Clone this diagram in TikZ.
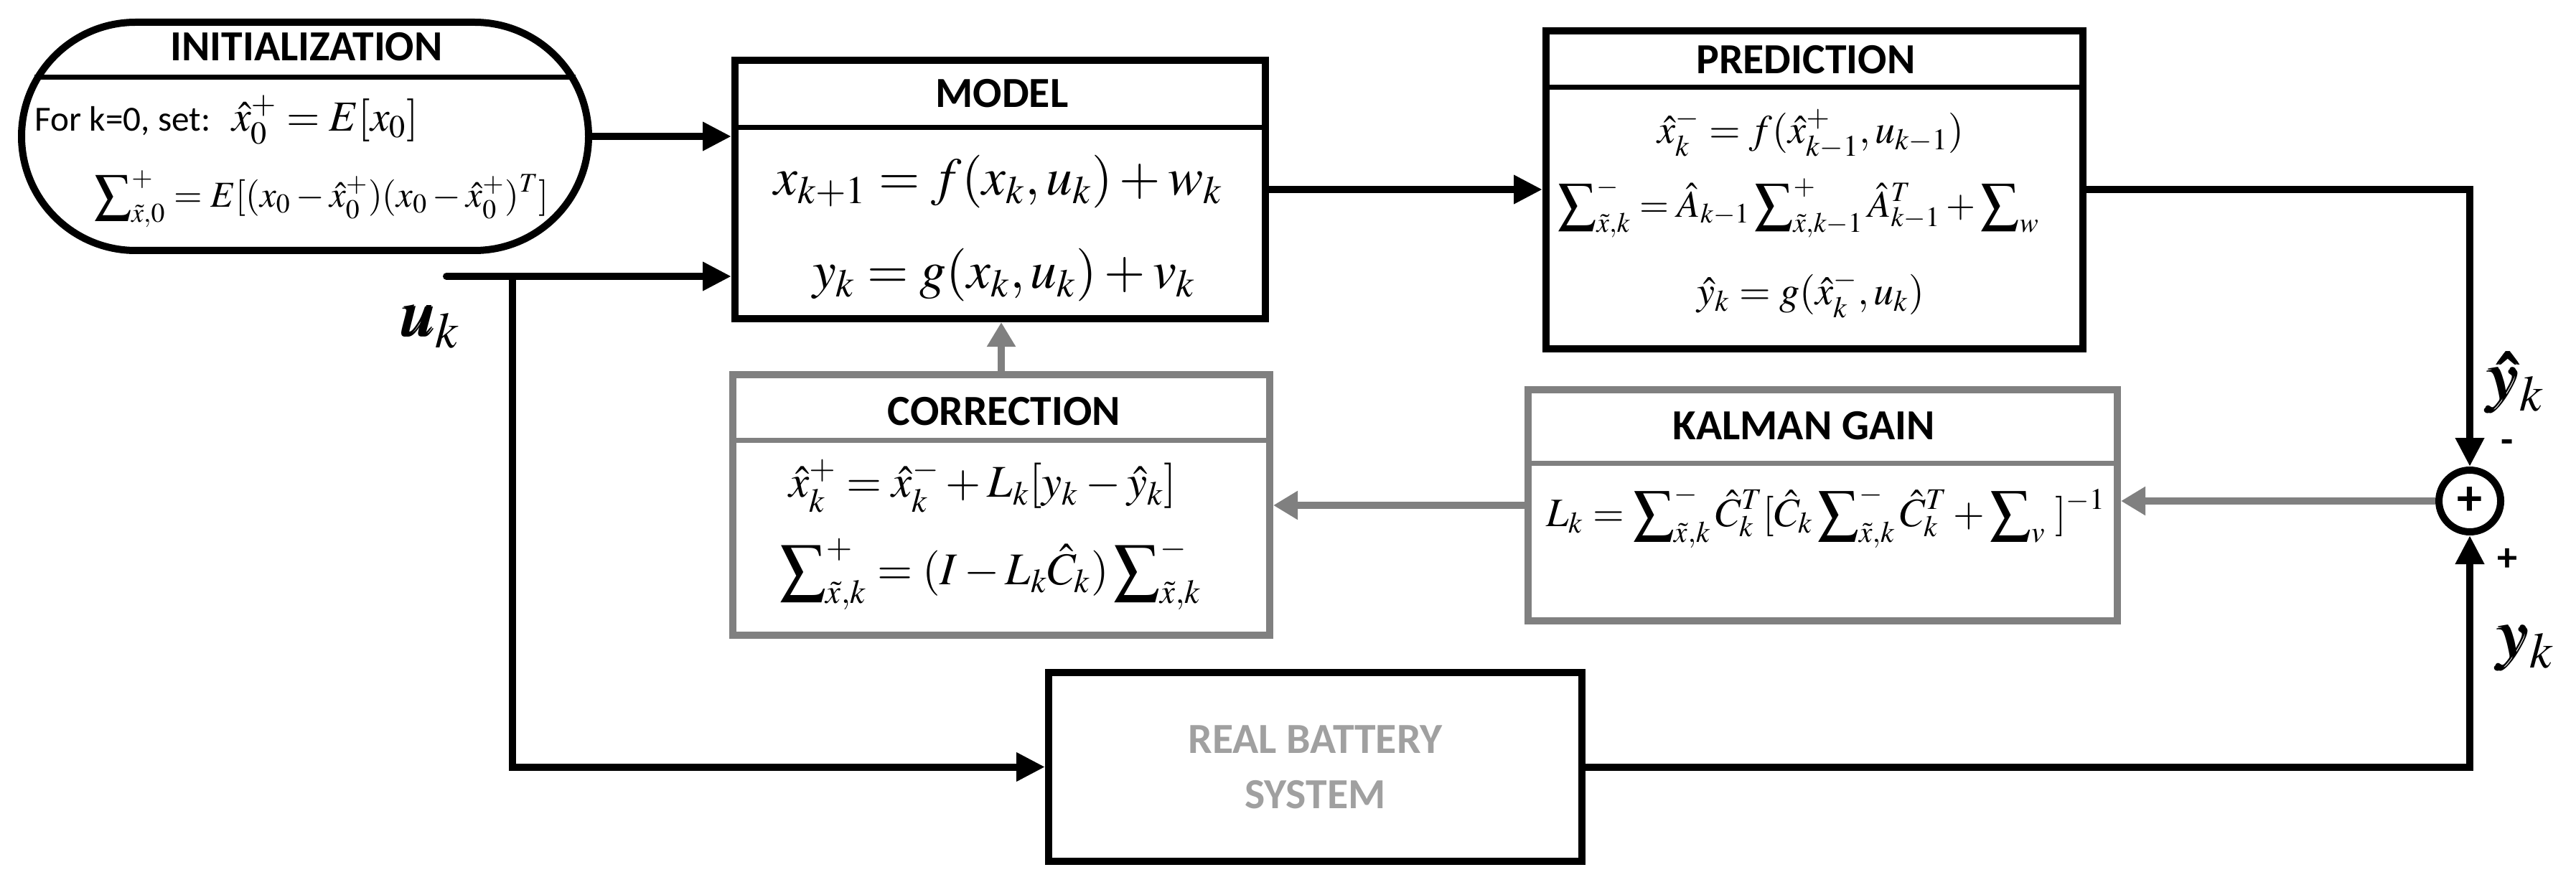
\documentclass[tikz,border=0pt]{standalone}
\usepackage{amsmath}
\usepackage{mathptmx}
\usepackage[no-math]{fontspec}
\setmainfont{Carlito}
\usetikzlibrary{arrows.meta,shapes.misc}

\definecolor{gline}{HTML}{808080}
\definecolor{gtext}{HTML}{A0A0A0}

\begin{document}
\begin{tikzpicture}[
        block/.style={draw,line width=1mm,inner sep=0pt},
        gblock/.style={block,draw=gline},
        title/.style={font=\fontsize{17}{20}\selectfont\bfseries},
        divider/.style={line width=0.7mm},
        signal/.style={-{Triangle[length=4mm,width=3.8mm]},line width=1mm},
        gsignal/.style={signal,draw=gline,-{Triangle[length=3.4mm,width=3.8mm]}}]

    \useasboundingbox (0,0) rectangle (35.89,-12.33);

    % blocks
    \node[block,rounded rectangle,minimum width=7.9cm,minimum height=3.18cm] (init) at (4.25,-1.90) {};
    \node[block,minimum width=7.39cm,minimum height=3.60cm] (model) at (13.935,-2.64) {};
    \node[block,minimum width=7.48cm,minimum height=4.43cm] (pred) at (25.28,-2.645) {};
    \node[gblock,minimum width=7.48cm,minimum height=3.63cm] (corr) at (13.95,-7.035) {};
    \node[gblock,minimum width=8.21cm,minimum height=3.22cm] (gain) at (25.395,-7.04) {};
    \node[block,minimum width=7.43cm,minimum height=2.63cm,align=center,text=gtext,
        font=\fontsize{17}{22}\selectfont\bfseries] (battery) at (18.325,-10.685) {REAL BATTERY\\SYSTEM};
    \node[draw,circle,line width=1mm,minimum size=8.6mm,inner sep=0pt,
        font=\fontsize{20}{20}\selectfont\bfseries] (sum) at (34.41,-6.98) {+};

    % dividers
    \draw[divider] ([shift={(0.23,0.82)}]init.west) -- ([shift={(-0.23,0.82)}]init.east);
    \draw[divider] (model.west |- 0,-1.78) -- (model.east |- 0,-1.78);
    \draw[divider] (pred.west |- 0,-1.22) -- (pred.east |- 0,-1.22);
    \draw[divider,gline] (corr.west |- 0,-6.13) -- (corr.east |- 0,-6.13);
    \draw[divider,gline] (gain.west |- 0,-6.45) -- (gain.east |- 0,-6.45);

    % titles
    \node[title] (inittitle) at (4.27,-0.65) {INITIALIZATION};
    \node[title] (modeltitle) at (13.96,-1.30) {MODEL};
    \node[title] (predtitle) at (25.16,-0.83) {PREDICTION};
    \node[title] (corrtitle) at (13.99,-5.73) {CORRECTION};
    \node[title] (gaintitle) at (25.13,-5.93) {KALMAN GAIN};

    % equations
    \node[anchor=west,font=\fontsize{14}{16}\selectfont,inner sep=0pt] (initone) at (0.48,-1.67)
        {For k=0, set:\hspace{3mm}\fontsize{17}{19}\selectfont$\hat{x}_0^+=E[x_0]$};
    \node[font=\fontsize{14.5}{17}\selectfont] (inittwo) at (4.48,-2.77)
        {$\displaystyle\sum\nolimits_{\tilde{x},0}^{+}=E[(x_0-\hat{x}_0^+)(x_0-\hat{x}_0^+)^T]$};
    \node[font=\fontsize{21}{24}\selectfont] (modelone) at (13.91,-2.53) {$x_{k+1}=f(x_k,u_k)+w_k$};
    \node[font=\fontsize{21}{24}\selectfont] (modeltwo) at (13.99,-3.83) {$y_k=g(x_k,u_k)+v_k$};
    \node[font=\fontsize{16}{19}\selectfont] (predone) at (25.23,-1.87) {$\hat{x}_k^-=f(\hat{x}_{k-1}^+,u_{k-1})$};
    \node[font=\fontsize{15}{18}\selectfont] (predtwo) at (25.06,-2.90)
        {$\displaystyle\sum\nolimits_{\tilde{x},k}^-=\hat{A}_{k-1}\sum\nolimits_{\tilde{x},k-1}^+\hat{A}_{k-1}^T+\sum\nolimits_w$};
    \node[font=\fontsize{16}{19}\selectfont] (predthree) at (25.23,-4.10) {$\hat{y}_k=g(\hat{x}_k^-,u_k)$};
    \node[font=\fontsize{18}{21}\selectfont] (corrone) at (13.69,-6.77) {$\hat{x}_k^+=\hat{x}_k^-+L_k[y_k-\hat{y}_k]$};
    \node[font=\fontsize{18}{21}\selectfont] (corrtwo) at (13.80,-8.00)
        {$\displaystyle\sum\nolimits_{\tilde{x},k}^+=(I-L_k\hat{C}_k)\sum\nolimits_{\tilde{x},k}^-$};
    \node[font=\fontsize{16}{19}\selectfont] (gainone) at (25.44,-7.20)
        {$\displaystyle L_k=\sum\nolimits_{\tilde{x},k}^-\hat{C}_k^T[\hat{C}_k\sum\nolimits_{\tilde{x},k}^-\hat{C}_k^T+\sum\nolimits_v\;]^{-1}$};

    % signal labels
    \node[font=\fontsize{27}{30}\selectfont] (ulabel) at (6.00,-4.55) {$\pmb{u}_k$};
    \node[font=\fontsize{27}{30}\selectfont] (yhatlabel) at (35.06,-5.33) {$\pmb{\hat{y}}_k$};
    \node[font=\fontsize{27}{30}\selectfont] (ylabel) at (35.20,-9.03) {$\pmb{y}_k$};
    \node[font=\fontsize{16}{16}\selectfont\bfseries] (minus) at (34.93,-6.22) {-};
    \node[font=\fontsize{16}{16}\selectfont\bfseries] (plus) at (34.93,-7.80) {+};

    % connections
    \coordinate (uin) at (6.22,-3.85);
    \coordinate (ubranch) at (7.14,-3.85);
    \draw[signal] (init.east) -- (init.east -| model.west);
    \draw[signal,line cap=round] (uin) -- (uin -| model.west);
    \draw[signal] (ubranch) |- (battery.west);
    \draw[signal] (model.east) -- (model.east -| pred.west);
    \draw[signal] (pred.east) -| (sum.north);
    \draw[signal] (battery.east) -| (sum.south);
    \draw[gsignal] (sum.west) -- (sum.west -| gain.east);
    \draw[gsignal] (gain.west) -- (gain.west -| corr.east);
    \draw[gsignal] (corr.north) -- (corr.north |- model.south);
\end{tikzpicture}
\end{document}
